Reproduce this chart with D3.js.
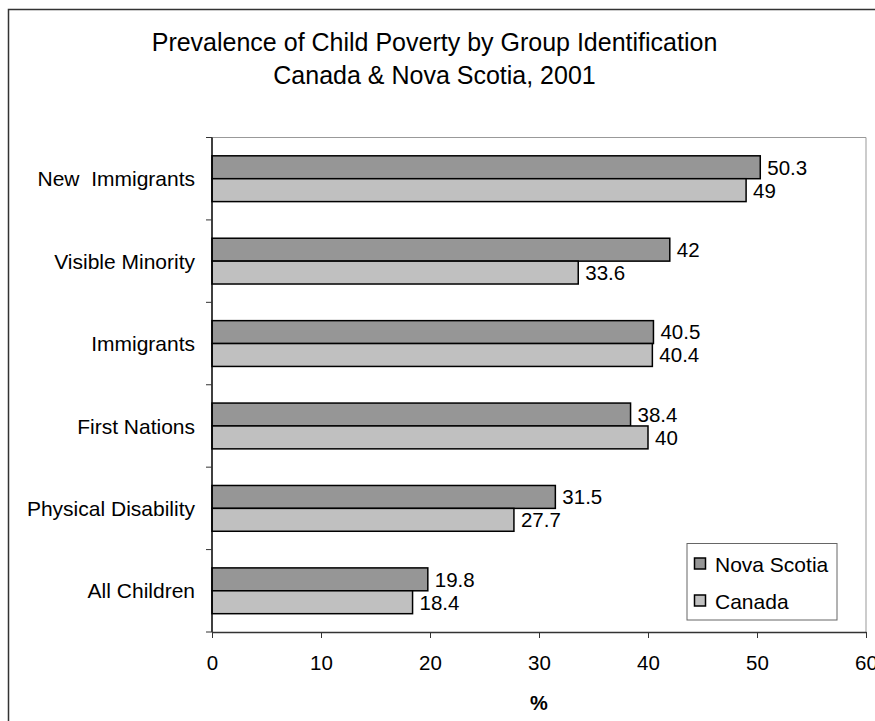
<!DOCTYPE html>
<html><head><meta charset="utf-8">
<script src="https://cdn.jsdelivr.net/npm/d3@7"></script>
<style>body{margin:0;background:#fff}svg{display:block;font-family:"Liberation Sans",Arial,sans-serif}</style>
</head><body><svg id="c" width="875" height="721"></svg>
<script>
const categories = ["New  Immigrants","Visible Minority","Immigrants","First Nations","Physical Disability","All Children"];
const novaScotia = [50.3, 42, 40.5, 38.4, 31.5, 19.8];
const canada = [49, 33.6, 40.4, 40, 27.7, 18.4];
const seriesNames = ["Nova Scotia","Canada"];
const xTicks = [0,10,20,30,40,50,60];
const titleLines = ["Prevalence of Child Poverty by Group Identification","Canada & Nova Scotia, 2001"];
const colors = ["#969696","#c0c0c0"];

const svg = d3.select("#c");
svg.append("rect").attr("x",8.5).attr("y",9.5).attr("width",900).attr("height",900)
  .attr("fill","#fff").attr("stroke","#333").attr("stroke-width",1.5);

const L=212, R=866, T=137.5, B=632;
const x = d3.scaleLinear().domain([0,60]).range([L,R]);
const y = d3.scaleBand().domain(categories).range([T,B]);
const sub = d3.scaleBand().domain(seriesNames).range([0,y.bandwidth()]).paddingInner(0).paddingOuter(0.8);

svg.append("path").attr("d",`M${L},${T}H${R}V${B}`).attr("fill","none").attr("stroke","#999").attr("stroke-width",1);

titleLines.forEach((t,i)=>svg.append("text").attr("x",434.5).attr("y",51+i*33).attr("text-anchor","middle")
  .attr("font-size",25).attr("fill","#000").style("white-space","pre").text(t));

const data = categories.map((c,i)=>({c, vals:[novaScotia[i],canada[i]]}));
const g = svg.append("g");
data.forEach(d=>{
  d.vals.forEach((v,j)=>{
    const yy = y(d.c)+sub(seriesNames[j]);
    g.append("rect").attr("x",x(0)).attr("y",yy).attr("width",x(v)-x(0)).attr("height",sub.bandwidth())
      .attr("fill",colors[j]).attr("stroke","#000").attr("stroke-width",1.5);
    g.append("text").attr("x",x(v)+7).attr("y",yy+sub.bandwidth()/2).attr("dy","0.36em")
      .attr("font-size",20.5).attr("fill","#000").text(v);
  });
});

const ya = svg.append("g").attr("transform",`translate(${L},0)`);
ya.append("line").attr("y1",T).attr("y2",B).attr("stroke","#000").attr("stroke-width",1.5);
const bounds = categories.map(c=>y(c)).concat([B]);
bounds.forEach(b=>ya.append("line").attr("x1",-6).attr("x2",0).attr("y1",b).attr("y2",b).attr("stroke","#333"));
categories.forEach(c=>ya.append("text").attr("x",-17).attr("y",y(c)+y.bandwidth()/2).attr("dy","0.36em")
  .attr("text-anchor","end").attr("font-size",21).attr("fill","#000").style("white-space","pre").text(c));

const xa = svg.append("g").attr("transform",`translate(0,${B})`)
  .call(d3.axisBottom(x).tickValues(xTicks).tickSize(6).tickSizeOuter(0).tickPadding(17));
xa.select(".domain").attr("stroke","#333").attr("stroke-width",1.5);
xa.selectAll(".tick line").attr("stroke","#333");
xa.selectAll("text").attr("font-size",20.5).attr("fill","#000").attr("font-family","Liberation Sans, Arial, sans-serif");
svg.append("text").attr("x",x(30)).attr("y",710).attr("text-anchor","middle").attr("font-size",20)
  .attr("font-weight","bold").text("%");

const lg = svg.append("g");
lg.append("rect").attr("x",687).attr("y",543.5).attr("width",150).attr("height",76.5).attr("fill","#fff").attr("stroke","#666");
seriesNames.forEach((s,i)=>{
  const cy = 564 + i*37;
  lg.append("rect").attr("x",694.5).attr("y",cy-6).attr("width",11).attr("height",11).attr("fill",colors[i]).attr("stroke","#000").attr("stroke-width",1.5);
  lg.append("text").attr("x",715).attr("y",cy).attr("dy","0.36em").attr("font-size",21).attr("fill","#000").text(s);
});
</script></body></html>
